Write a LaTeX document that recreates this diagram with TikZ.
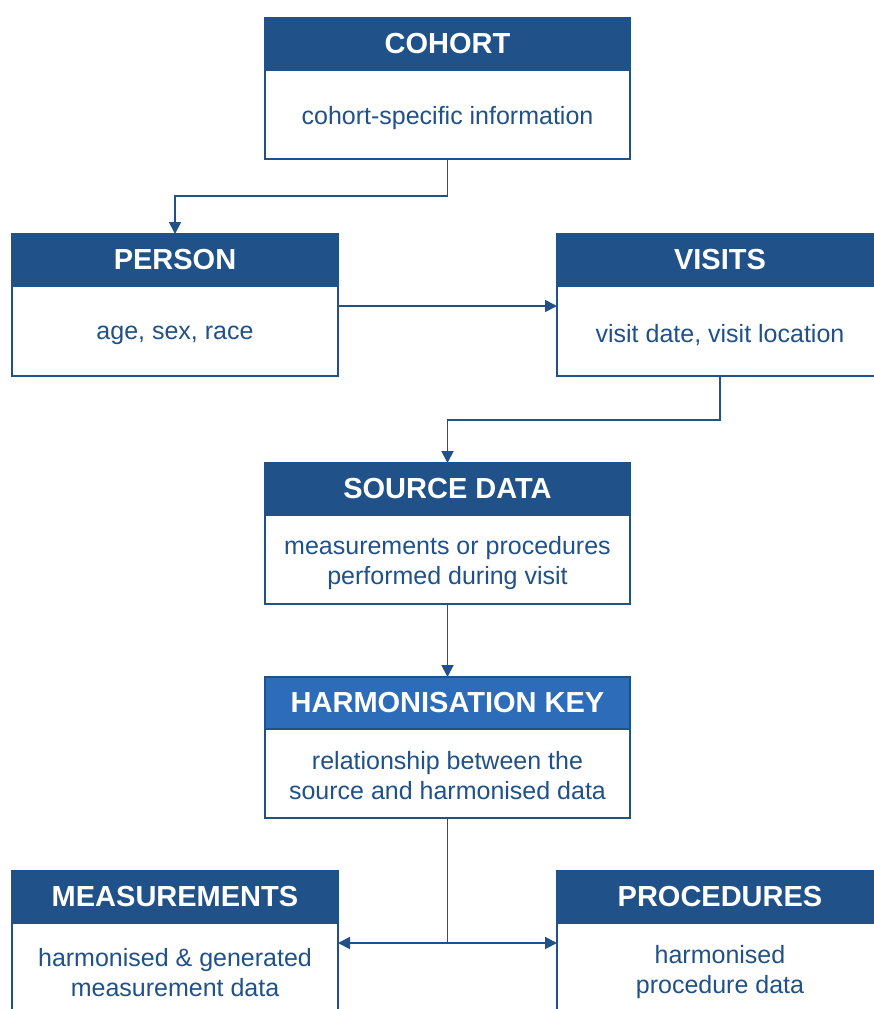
\documentclass[tikz,border=0pt]{standalone}
\usepackage{fontspec}
\setmainfont{Liberation Sans}
\usetikzlibrary{arrows.meta,calc}
\definecolor{hdr}{RGB}{32,81,137}
\definecolor{hdrlight}{RGB}{44,108,184}
\definecolor{txt}{RGB}{32,81,137}
\tikzset{
  hbox/.style={draw=hdr, line width=2pt, fill=hdr, text=white,
    font=\fontsize{29}{32}\selectfont\bfseries, minimum height=52pt,
    anchor=north west, inner sep=0pt, outer sep=0pt},
  bbox/.style={draw=hdr, line width=2pt, fill=white,
    anchor=north west, inner sep=0pt, outer sep=0pt},
  btext/.style={text=txt, font=\fontsize{25}{30}\selectfont, align=center, inner sep=0pt},
  conn/.style={draw=hdr, line width=1.8pt},
  arr/.style={conn, -{Triangle[length=12pt,width=12pt]}},
}
\begin{document}
\begin{tikzpicture}[x=1pt,y=-1pt]
\useasboundingbox (0,0) rectangle (874,1009);
\clip (0,0) rectangle (874,1009);

% COHORT
\node[hbox, minimum width=365pt] (cohortH) at (265,18) {COHORT};
\node[bbox, minimum width=365pt, minimum height=89pt] (cohort) at (cohortH.south west) {};
\node[btext] (cohortT) at ([yshift=-4pt]cohort.center) {cohort-specific information};

% PERSON
\node[hbox, minimum width=326pt] (personH) at (12,234) {PERSON};
\node[bbox, minimum width=326pt, minimum height=90pt] (person) at (personH.south west) {};
\node[btext] (personT) at ([yshift=-4pt]person.center) {age, sex, race};

% VISITS
\node[hbox, minimum width=326pt] (visitsH) at (557,234) {VISITS};
\node[bbox, minimum width=326pt, minimum height=90pt] (visits) at (visitsH.south west) {};
\node[btext] (visitsT) at ([yshift=-4pt]visits.center) {visit date, visit location};

% SOURCE DATA
\node[hbox, minimum width=365pt] (sourceH) at (265,463) {SOURCE DATA};
\node[bbox, minimum width=365pt, minimum height=89pt] (source) at (sourceH.south west) {};
\node[btext] (sourceT) at ([yshift=-4pt]source.center) {measurements or procedures\\performed during visit};

% HARMONISATION KEY
\node[hbox, fill=hdrlight, minimum width=365pt] (harmH) at (265,677) {HARMONISATION KEY};
\node[bbox, minimum width=365pt, minimum height=89pt] (harm) at (harmH.south west) {};
\node[btext] (harmT) at ([yshift=-2pt]harm.center) {relationship between the\\source and harmonised data};

% MEASUREMENTS
\node[hbox, minimum width=326pt] (measH) at (12,871) {MEASUREMENTS};
\node[bbox, minimum width=326pt, minimum height=95pt] (meas) at (measH.south west) {};
\node[btext] (measT) at ([yshift=-2pt]meas.center) {harmonised \& generated\\measurement data};

% PROCEDURES
\node[hbox, minimum width=326pt] (procH) at (557,871) {PROCEDURES};
\node[bbox, minimum width=326pt, minimum height=95pt] (proc) at (procH.south west) {};
\node[btext] (procT) at ([yshift=-2pt]proc.center) {harmonised\\procedure data};

% connectors
\draw[arr] (cohort.south) -- ++(0,37) -| (personH.north);
\draw[arr] ([yshift=-20pt]person.north east) -- ([yshift=-20pt]visits.north west);
\draw[arr] (visits.south) -- ++(0,44) -| (sourceH.north);
\draw[arr] (source.south) -- (harmH.north);
\draw[conn] (harm.south) -- ++(0,125) coordinate (split);
\draw[arr] (split) -- (meas.east |- split);
\draw[arr] (split) -- (proc.west |- split);
\end{tikzpicture}
\end{document}
